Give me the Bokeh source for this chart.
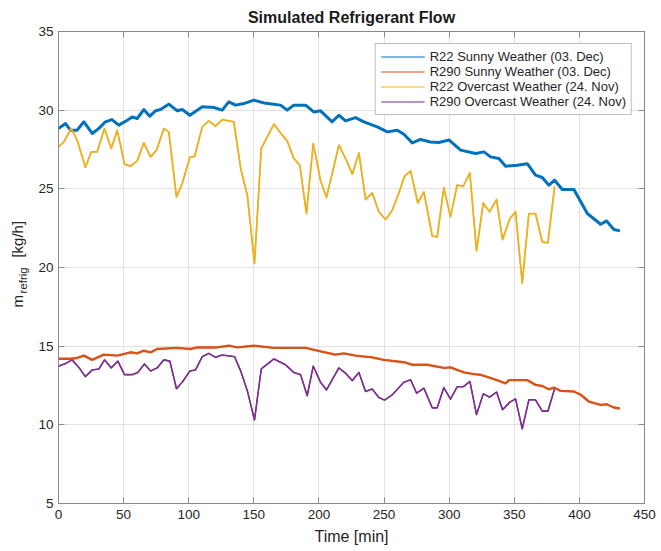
import math
from bokeh.plotting import figure
from bokeh.layouts import row
from bokeh.models import (Range1d, LinearAxis, FixedTicker, Legend,
                          LegendItem, CustomJSTickFormatter)
from bokeh.core.properties import value
from bokeh.embed import file_html
from bokeh.resources import INLINE

# ---------------- data ----------------
r22_sunny_t = [0, 5.4, 9.2, 14.3, 19.5, 25.9, 31, 36, 41, 46.3,
               52.8, 56.6, 60.4, 65.5, 70.1, 74.5, 78.3, 84.7, 91.2, 95,
               100.9, 106.5, 110.4, 119.3, 125.7, 130.8, 136, 142.3, 150, 157.7,
               170.5, 175.6, 180.7, 189.7, 196, 201.2, 210.2, 215.3, 220.4, 228.1,
               234.5, 244.8, 252.5, 260.2, 265.2, 271.7, 278, 285.7, 292, 300,
               308.8, 320.3, 326.7, 331.8, 338.2, 343.4, 352.3, 360, 366.3, 371.5,
               376.6, 381, 386.9, 395.8, 406.1, 416.3, 420.9, 426.5, 431.1]
r22_sunny = [28.84, 29.15, 28.73, 28.73, 29.26, 28.52, 28.84, 29.26, 29.4, 29.05,
             29.36, 29.57, 29.47, 30.04, 29.62, 29.96, 30.04, 30.38, 29.96, 30.04,
             29.68, 30.0, 30.21, 30.17, 30.0, 30.53, 30.32, 30.42, 30.64, 30.46,
             30.32, 30.0, 30.32, 30.32, 29.89, 29.96, 29.26, 29.68, 29.32, 29.53,
             29.26, 28.94, 28.62, 28.73, 28.47, 27.92, 28.14, 27.98, 27.95, 28.1,
             27.46, 27.25, 27.35, 27.03, 26.93, 26.44, 26.5, 26.6, 25.87, 25.72,
             25.23, 25.55, 24.96, 24.96, 23.43, 22.75, 22.96, 22.42, 22.33]

r290_sunny_t = [0, 9.2, 14.3, 19.5, 25.9, 34.8, 45.1, 55.3, 60.4, 65.5,
                70.7, 75.8, 91.2, 101.4, 106.5, 121.8, 130.8, 137.2, 150, 165.4,
                189.7, 201.2, 212.7, 219.1, 228.1, 240.9, 249.8, 265.2, 271.7, 283.1,
                295.9, 301, 311.3, 318.9, 324.1, 330.5, 338.2, 343.4, 345.9, 360,
                366.3, 371.5, 376.6, 380.4, 385.6, 395.8, 401, 407.3, 416.3, 420.9,
                426.5, 431.1]
r290_sunny = [14.2, 14.2, 14.25, 14.4, 14.13, 14.46, 14.4, 14.61, 14.54, 14.71,
              14.61, 14.82, 14.89, 14.82, 14.92, 14.92, 15.03, 14.92, 15.03, 14.89,
              14.89, 14.67, 14.46, 14.54, 14.4, 14.29, 14.13, 13.98, 13.82, 13.82,
              13.62, 13.65, 13.33, 13.22, 13.18, 13.01, 12.8, 12.63, 12.84, 12.84,
              12.54, 12.47, 12.26, 12.37, 12.16, 12.12, 11.91, 11.48, 11.27, 11.31,
              11.1, 11.04]

r22_overcast_t = [0, 4.1, 9.7, 14.3, 20.7, 25.1, 29.7, 35.3, 40.5, 45.1,
                  50.7, 55.3, 60.4, 65.5, 70.7, 75.3, 80.9, 84.7, 90.6, 95,
                  100.9, 104.5, 110.4, 115.4, 120.6, 125.7, 134.6, 140, 145, 150.5,
                  155.7, 165.4, 170.5, 175.6, 180.7, 185.3, 190.4, 195.6, 201.2, 205.8,
                  215.3, 220.4, 225.6, 230.7, 235.8, 240.9, 246, 251.2, 256.3, 261.4,
                  265.7, 270.4, 275.9, 280.6, 287, 290.8, 295.9, 301, 306.1, 310.8,
                  315.9, 321, 326.2, 331, 336.4, 341, 346.6, 351, 356.1, 361.2,
                  366.3, 371.5, 375.8, 381]
r22_overcast = [27.67, 27.98, 28.84, 28.1, 26.36, 27.35, 27.35, 28.84, 27.56, 28.73,
                26.57, 26.44, 26.78, 27.92, 27.03, 27.46, 28.84, 28.62, 24.49, 25.34,
                27.0, 27.07, 28.94, 29.32, 28.98, 29.4, 29.26, 26.25, 24.6, 20.25,
                27.57, 29.11, 28.56, 28.05, 26.93, 26.5, 23.43, 27.88, 25.55, 24.45,
                27.78, 26.93, 25.93, 27.29, 24.32, 24.74, 23.54, 23.05, 23.64, 24.74,
                25.8, 26.14, 24.1, 24.81, 22.0, 21.95, 25.08, 23.22, 25.23, 25.17,
                26.01, 21.06, 24.1, 23.54, 24.32, 21.77, 23.11, 23.54, 19.0, 23.43,
                23.43, 21.63, 21.57, 25.17]

r290_overcast_t = [0, 5.4, 10.5, 15.6, 20.7, 25.9, 31, 35.3, 40.5, 45.6,
                   50.7, 56.6, 60.9, 66, 70.7, 75.8, 80.9, 85.5, 90.6, 95,
                   100.9, 105.2, 110.4, 115.4, 120.6, 125.7, 135.2, 140, 145, 150.5,
                   155.7, 165.4, 174.3, 180.7, 185.9, 191, 195.6, 201.2, 205.8, 215.3,
                   220.4, 225.6, 230.7, 235.8, 240.9, 246, 250.4, 256.3, 265.2, 270.4,
                   275, 280.6, 287, 290.8, 295.9, 301, 306.1, 310.8, 315.9, 321,
                   326.2, 331, 336.4, 341, 346.6, 351, 356.1, 361.2, 366.3, 371.5,
                   375.8, 381]
r290_overcast = [13.73, 13.9, 14.13, 13.65, 13.06, 13.49, 13.55, 14.13, 13.62, 14.05,
                 13.19, 13.19, 13.33, 13.87, 13.42, 13.62, 14.13, 14.05, 12.29, 12.71,
                 13.42, 13.49, 14.33, 14.54, 14.29, 14.44, 14.33, 13.4, 12.17, 10.31,
                 13.55, 14.19, 13.82, 13.33, 13.19, 11.85, 13.73, 12.71, 12.22, 13.62,
                 13.28, 12.81, 13.33, 12.12, 12.27, 11.74, 11.57, 11.91, 12.71, 12.86,
                 12.01, 12.33, 11.08, 11.08, 12.37, 11.63, 12.42, 12.42, 12.76, 10.65,
                 11.97, 11.76, 12.08, 10.96, 11.44, 11.65, 9.74, 11.59, 11.59, 10.87,
                 10.87, 12.29]

series_names = ["R22 Sunny Weather (03. Dec)", "R290 Sunny Weather (03. Dec)",
                "R22 Overcast Weather (24. Nov)", "R290 Overcast Weather (24. Nov)"]
x_ticks = [0, 50, 100, 150, 200, 250, 300, 350, 400, 450]
y_ticks = [5, 10, 15, 20, 25, 30, 35]

colors = ["#0072BD", "#D95319", "#EDB120", "#7E2F8E"]
widths = [3.0, 2.4, 1.8, 1.6]
FONT = "Liberation Sans"
AX = "#8a8a8a"
TXT = "#262626"

LAB_W = 34   # width of the narrow strip carrying the y-axis label

p = figure(width=661 - LAB_W, height=551, output_backend="svg", toolbar_location=None,
           x_range=Range1d(0, 450), y_range=Range1d(5, 35),
           min_border_left=58 - LAB_W, min_border_right=17, min_border_top=31,
           min_border_bottom=48, title="Simulated Refrigerant Flow")

p.title.align = "center"
p.title.text_font = FONT
p.title.text_font_size = "16px"
p.title.text_font_style = "bold"
p.title.text_color = "#1a1a1a"
p.title.standoff = 11

p.outline_line_color = AX
p.outline_line_width = 1
p.background_fill_color = "white"

for ax in (p.xaxis[0], p.yaxis[0]):
    ax.axis_line_color = AX
    ax.major_tick_line_color = AX
    ax.major_tick_in = 6
    ax.major_tick_out = 0
    ax.minor_tick_line_color = None
    ax.major_label_text_font = FONT
    ax.major_label_text_font_size = "13.5px"
    ax.major_label_text_color = TXT

p.xaxis[0].ticker = FixedTicker(ticks=x_ticks)
p.yaxis[0].ticker = FixedTicker(ticks=y_ticks)
p.xaxis[0].major_label_standoff = 6
p.yaxis[0].major_label_standoff = 5
p.xaxis[0].axis_label = "Time [min]"
p.xaxis[0].axis_label_text_font = FONT
p.xaxis[0].axis_label_text_font_size = "16px"
p.xaxis[0].axis_label_text_font_style = "normal"
p.xaxis[0].axis_label_text_color = TXT
p.xaxis[0].axis_label_standoff = 6

blank = CustomJSTickFormatter(code="return '';")
top = LinearAxis(ticker=FixedTicker(ticks=x_ticks), formatter=blank)
right = LinearAxis(ticker=FixedTicker(ticks=y_ticks), formatter=blank)
for ax in (top, right):
    ax.axis_line_color = AX
    ax.major_tick_line_color = AX
    ax.major_tick_in = 6
    ax.major_tick_out = 0
    ax.minor_tick_line_color = None
    ax.major_label_standoff = 0
    ax.major_label_text_font_size = "1px"
p.add_layout(top, "above")
p.add_layout(right, "right")

p.grid.grid_line_color = "#e2e2e2"
p.grid.grid_line_width = 1
p.xgrid.ticker = FixedTicker(ticks=x_ticks)
p.ygrid.ticker = FixedTicker(ticks=y_ticks)

data = [(r22_sunny_t, r22_sunny), (r290_sunny_t, r290_sunny),
        (r22_overcast_t, r22_overcast), (r290_overcast_t, r290_overcast)]

# thin copies (hidden beneath the main lines) used as legend glyphs
items = []
for (t, v), c, name in zip(data, colors, series_names):
    r = p.line(t, v, line_color=c, line_width=1.2)
    items.append(LegendItem(label=name, renderers=[r]))

for (t, v), c, w in zip(data, colors, widths):
    p.line(t, v, line_color=c, line_width=w, line_join="round")

legend = Legend(items=items, location="top_right")
legend.margin = 12
legend.padding = 5
legend.spacing = 0
legend.glyph_width = 44
legend.glyph_height = 15
legend.label_height = 15
legend.label_standoff = 5
legend.label_text_font = FONT
legend.label_text_font_size = "13px"
legend.label_text_color = TXT
legend.border_line_color = "#7a7a7a"
legend.border_line_width = 1
legend.background_fill_color = "white"
legend.background_fill_alpha = 1
p.add_layout(legend)

# ---- narrow strip with the y-axis label (m_refrig [kg/h]) ----
lab = figure(width=LAB_W, height=551, output_backend="svg", toolbar_location=None,
             x_range=Range1d(0, LAB_W), y_range=p.y_range, title=None,
             x_axis_location=None, y_axis_location=None,
             min_border_left=0, min_border_right=0, min_border_top=31,
             min_border_bottom=48)
lab.outline_line_color = None
lab.grid.visible = False
common = dict(angle=math.pi / 2, text_font=value(FONT), text_color=TXT,
              text_baseline="alphabetic", text_align="left")
lab.text(x=[16.5], y=[17.45], text=["m"], text_font_size=value("15px"), **common)
lab.text(x=[22.0], y=[18.35], text=["refrig"], text_font_size=value("11.5px"), **common)
lab.text(x=[16.5], y=[20.63], text=["[kg/h]"], text_font_size=value("15px"), **common)

layout = row(lab, p, spacing=0)
open("out.html", "w").write(file_html(layout, INLINE))
